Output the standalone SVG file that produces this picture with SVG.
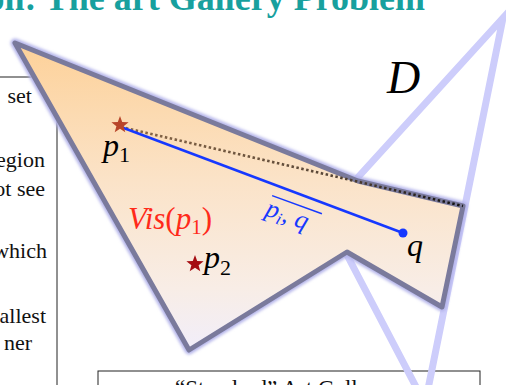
<svg xmlns="http://www.w3.org/2000/svg" width="506" height="385" viewBox="0 0 506 385">
<defs>
<style>
text{font-family:"Liberation Serif","Times New Roman","DejaVu Serif",serif}
.box{fill:none;stroke:#222;stroke-width:1}
.boxtxt{font-size:22px;fill:#111}
.math{font-style:italic;fill:#000}
.sub{font-style:normal}
</style>
<linearGradient id="fillG" x1="0" y1="0" x2="0" y2="1">
<stop offset="0" stop-color="#fdd199"/>
<stop offset="0.45" stop-color="#fbe3c8"/>
<stop offset="0.8" stop-color="#f8ede6"/>
<stop offset="1" stop-color="#f1eefa"/>
</linearGradient>
<linearGradient id="dotG" gradientUnits="userSpaceOnUse" x1="121" y1="127" x2="463" y2="206">
<stop offset="0" stop-color="#8a6848"/>
<stop offset="0.6" stop-color="#5a4838"/>
<stop offset="1" stop-color="#111"/>
</linearGradient>
<filter id="glow" x="-10%" y="-10%" width="120%" height="120%">
<feGaussianBlur stdDeviation="1.5"/>
</filter>
<path id="star" d="M0,-9 L2.2,-3 L8.6,-2.8 L3.6,1.2 L5.3,7.3 L0,3.7 L-5.3,7.3 L-3.6,1.2 L-8.6,-2.8 L-2.2,-3 Z"/>
</defs>

<text x="425" y="10" text-anchor="end" font-size="36" font-weight="bold" fill="#17a09e">on: The art Gallery Problem</text>

<g id="left-box">
<rect class="box" x="-10" y="77" width="67" height="330"/>
<g class="boxtxt" text-anchor="end">
<text x="32" y="103">set</text>
<text x="45" y="167">egion</text>
<text x="45" y="196">ot see</text>
<text x="47" y="258">which</text>
<text x="46" y="323">allest</text>
<text x="32" y="350">ner</text>
</g>
</g>

<g id="bottom-box">
<rect class="box" x="98" y="371" width="382" height="60"/>
<text x="175" y="396" font-size="23" fill="#111">“Standard” Art Gallery</text>
</g>

<g id="shape-D">
<polyline points="330,208 503,18 425,404 335,232" fill="none" stroke="#cdcdfb" stroke-width="7" stroke-linejoin="miter"/>
<text class="math" x="387" y="93" font-size="46">D</text>
</g>

<g id="polygon-P">
<polygon points="15,43 358,181 463,206 442,307 347,252 189,350" fill="none" stroke="#b4b4ea" stroke-width="9" stroke-linejoin="round" filter="url(#glow)"/>
<polygon points="15,43 358,181 463,206 442,307 347,252 189,350" fill="url(#fillG)" stroke="#7a7a9c" stroke-width="5" stroke-linejoin="round"/>
</g>

<g id="connectors">
<line x1="121" y1="127" x2="463" y2="206" stroke="url(#dotG)" stroke-width="2.6" stroke-dasharray="2.5 2.5"/>
<line x1="121" y1="127" x2="403" y2="233" stroke="#1638ff" stroke-width="2.5"/>
<g transform="translate(264,215) rotate(20)" fill="#1638ff">
<line x1="1" y1="-21" x2="54" y2="-21" stroke="#1638ff" stroke-width="1.5"/>
<text x="0" y="0" font-size="26" font-style="italic">p<tspan font-size="17" dy="4">i</tspan><tspan dy="-4">, q</tspan></text>
</g>
</g>

<g id="p1">
<use href="#star" transform="translate(120,125)" fill="#b8452a"/>
<text class="math" x="103" y="156" font-size="32">p<tspan class="sub" font-size="22" dy="6">1</tspan></text>
</g>

<g id="vis">
<text x="128" y="229" font-size="31" fill="#ff2a1a"><tspan font-style="italic">Vis</tspan>(<tspan font-style="italic">p</tspan><tspan font-size="21" dy="5">1</tspan><tspan dy="-5">)</tspan></text>
</g>

<g id="p2">
<use href="#star" transform="translate(195,264)" fill="#a50d12"/>
<text class="math" x="204" y="268" font-size="32">p<tspan class="sub" font-size="22" dy="7">2</tspan></text>
</g>

<g id="q">
<circle cx="403" cy="233" r="4.5" fill="#1638ff"/>
<text class="math" x="407" y="256" font-size="32">q</text>
</g>
</svg>
